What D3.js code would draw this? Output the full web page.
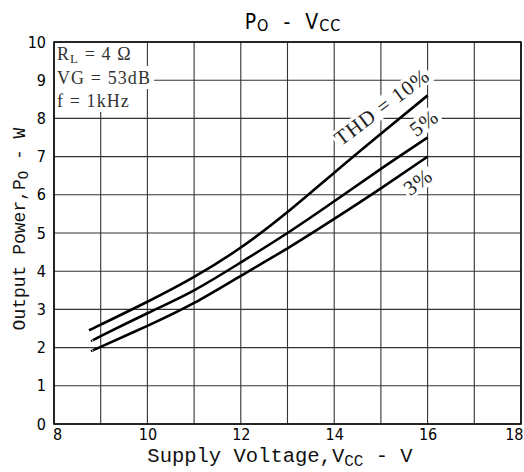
<!DOCTYPE html>
<html><head><meta charset="utf-8">
<script src="https://cdn.jsdelivr.net/npm/d3@7"></script>
<style>body{margin:0;background:#fff}svg{display:block}</style>
</head><body>
<svg id="c" width="524" height="472"></svg>
<script>
const xTicks = [8,10,12,14,16,18];
const yTicks = [0,1,2,3,4,5,6,7,8,9,10];
const vcc10 = [8.75, 9, 10, 11, 12, 13, 14, 15, 16];
const thd10 = [2.45, 2.6, 3.2, 3.85, 4.62, 5.55, 6.58, 7.6, 8.6];
const vcc5 = [8.82, 9, 10, 11, 12, 13, 14, 15, 16];
const thd5 = [2.18, 2.3, 2.9, 3.5, 4.23, 5.0, 5.83, 6.68, 7.5];
const vcc3 = [8.82, 9, 10, 11, 12, 13, 14, 15, 16];
const thd3 = [1.92, 2.02, 2.57, 3.17, 3.88, 4.6, 5.37, 6.17, 7.0];
const seriesLabels = ["THD = 10%", "5%", "3%"];
const notes = ["R", "VG = 53dB", "f = 1kHz"];

const svg = d3.select("#c");
const L=54, R=521, T=42, B=424;
const x = d3.scaleLinear().domain([8,18]).range([L,R]);
const y = d3.scaleLinear().domain([0,10]).range([B,T]);
const NARROW = "'Liberation Sans Narrow','DejaVu Sans Condensed','Liberation Sans',sans-serif";

// grid
const g = svg.append("g");
g.selectAll("line.v").data(d3.range(8,19,1)).join("line")
  .attr("x1",d=>x(d)).attr("x2",d=>x(d)).attr("y1",T).attr("y2",B)
  .attr("stroke","#333").attr("stroke-width",1.1);
g.selectAll("line.h").data(yTicks).join("line")
  .attr("x1",L).attr("x2",R).attr("y1",d=>y(d)).attr("y2",d=>y(d))
  .attr("stroke","#333").attr("stroke-width",1.1);
svg.append("rect").attr("x",L).attr("y",T).attr("width",R-L).attr("height",B-T)
  .attr("fill","none").attr("stroke","#000").attr("stroke-width",1.5);

// axes tick labels
svg.append("g").attr("transform",`translate(0,${B})`)
  .call(d3.axisBottom(x).tickValues(xTicks).tickSize(0).tickPadding(5).tickFormat(d3.format("d")))
  .call(a=>{a.select(".domain").remove();
    a.selectAll("text").attr("font-family",NARROW).attr("font-size",16).attr("fill","#000")
     .attr("text-anchor",d=>d===18?"end":"middle")
     .attr("dx",d=>d===8?3:(d===18?2:0));});
svg.append("g").attr("transform",`translate(${L},0)`)
  .call(d3.axisLeft(y).tickValues(yTicks).tickSize(0).tickPadding(8).tickFormat(d3.format("d")))
  .call(a=>{a.select(".domain").remove();a.selectAll("text").attr("font-family",NARROW).attr("font-size",16).attr("fill","#000");});

// curves
const line = d3.line().x(d=>x(d[0])).y(d=>y(d[1])).curve(d3.curveNatural);
[[vcc10,thd10],[vcc5,thd5],[vcc3,thd3]].forEach(([vx,vy])=>{
  svg.append("path").attr("d",line(vx.map((v,i)=>[v,vy[i]])))
    .attr("fill","none").attr("stroke","#000").attr("stroke-width",2.6);
});

// labels on curves, with white backing
function label(txt, cx, cy, ang, size){
  const gg = svg.append("g").attr("transform",`translate(${cx},${cy}) rotate(${ang})`);
  const t = gg.append("text").attr("text-anchor","middle").attr("dominant-baseline","central")
    .attr("font-family","Liberation Serif").attr("font-size",size).attr("letter-spacing",1)
    .attr("fill","#222").text(txt);
  const b = t.node().getBBox();
  gg.insert("rect","text").attr("x",b.x-2).attr("y",b.y+2).attr("width",b.width+4).attr("height",b.height-4).attr("fill","#fff");
}
label(seriesLabels[0], 382, 107, -37, 21);
label(seriesLabels[1], 424, 123, -37, 21);
label(seriesLabels[2], 418, 182, -37, 21);

// notes box
const ng = svg.append("g").attr("font-family","Liberation Serif").attr("font-size",18)
  .attr("letter-spacing",1.1).attr("fill","#333");
const n1 = ng.append("text").attr("x",57).attr("y",60);
n1.append("tspan").text(notes[0]);
n1.append("tspan").attr("font-size",13).attr("dy",3).text("L");
n1.append("tspan").attr("dy",-3).text(" = 4 Ω");
ng.append("text").attr("x",57).attr("y",84).text(notes[1]);
ng.append("text").attr("x",57).attr("y",107).text(notes[2]);
const rowTop=[43,66,89], rowBot=[66,89,112];
ng.selectAll("text").each(function(d,i){
  const b=this.getBBox();
  ng.insert("rect","text").attr("x",L+1).attr("y",rowTop[i]).attr("width",b.x+b.width+3-(L+1))
    .attr("height",rowBot[i]-rowTop[i]).attr("fill","#fff");
});

// title
const tt = svg.append("text").attr("x",293).attr("y",29).attr("text-anchor","middle")
  .attr("font-family",NARROW).attr("font-size",21).attr("letter-spacing",1).attr("xml:space","preserve");
tt.append("tspan").text("P");
tt.append("tspan").attr("font-size",16).attr("dy",2).text("O");
tt.append("tspan").attr("dy",-2).text("  -  V");
tt.append("tspan").attr("font-size",16).attr("dy",2).text("CC");

// x axis title
const xt = svg.append("text").attr("x",280).attr("y",462).attr("text-anchor","middle")
  .attr("font-family","Liberation Mono").attr("font-size",20.5).attr("fill","#111");
xt.append("tspan").text("Supply Voltage,V");
xt.append("tspan").attr("font-size",16).attr("dy",4).text("CC");
xt.append("tspan").attr("dy",-4).text(" - V");

// y axis title
const yt = svg.append("text").attr("transform","translate(25,229) rotate(-90)").attr("text-anchor","middle")
  .attr("font-family","Liberation Mono").attr("font-size",18).attr("fill","#111");
yt.append("tspan").text("Output Power,P");
yt.append("tspan").attr("font-size",14).attr("dy",3).text("O");
yt.append("tspan").attr("dy",-3).text(" - W");
</script>
</body></html>
